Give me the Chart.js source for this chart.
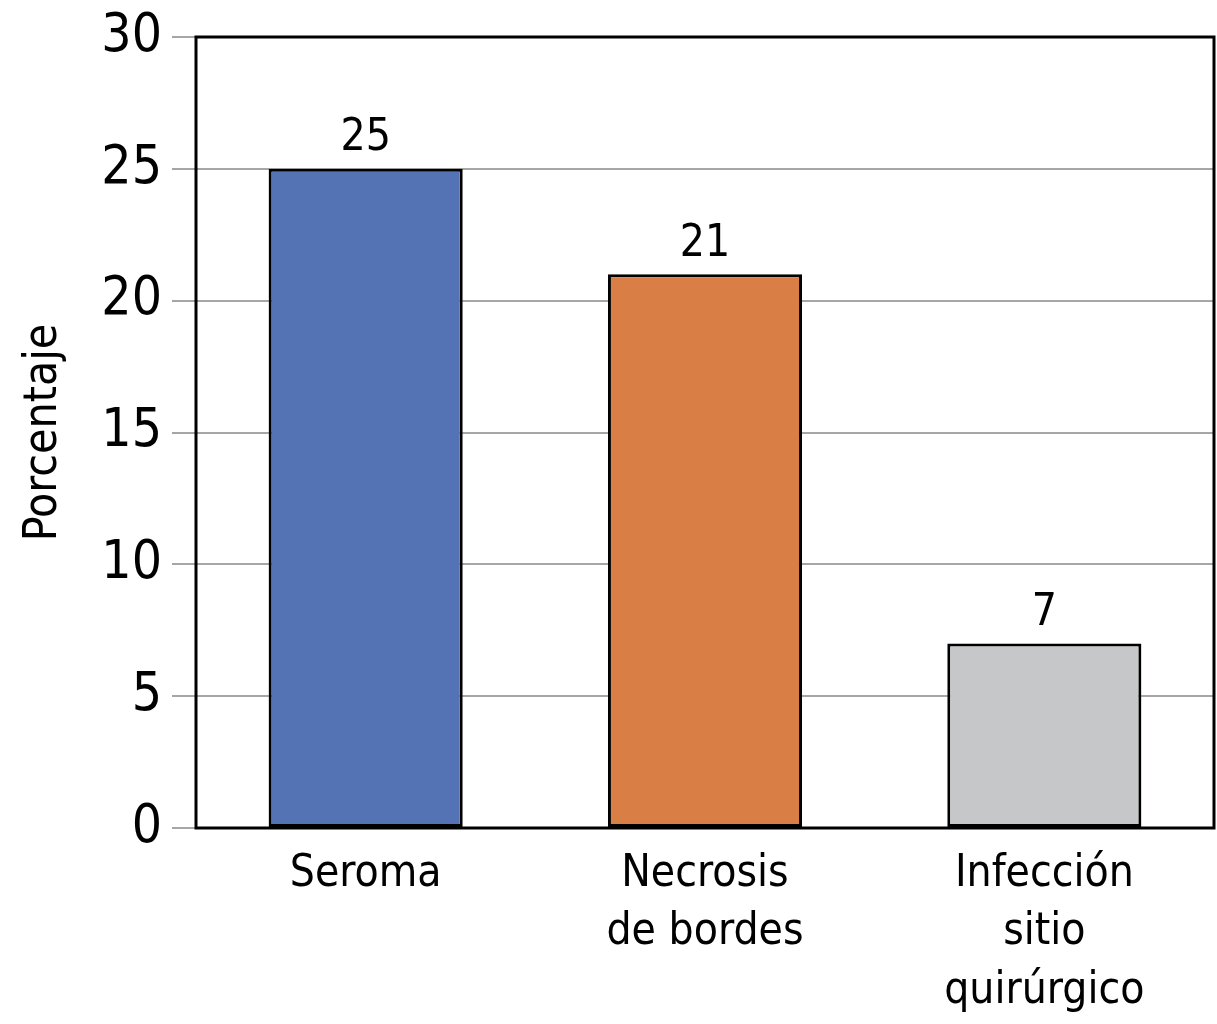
<!DOCTYPE html>
<html>
<head>
<meta charset="utf-8">
<script src="https://cdn.jsdelivr.net/npm/chart.js@4/dist/chart.umd.min.js"></script>
<style>
  html, body { margin: 0; padding: 0; background: #fff; }
  #wrap { width: 1217px; height: 1024px; }
</style>
</head>
<body>
<div id="wrap"><canvas id="canv" width="1217" height="1024"></canvas></div>
<script>
var categories = [["Seroma"], ["Necrosis", "de bordes"], ["Infección", "sitio", "quirúrgico"]];
var values = [25, 21, 7];
var barColors = ["#5473b5", "#d97f45", "#c6c7c9"];
var yTicks = [0, 5, 10, 15, 20, 25, 30];

var fontFam = "'Liberation Sans Narrow', 'DejaVu Sans Condensed', 'Liberation Sans', sans-serif";

// value labels above the bars and the black frame around the plot
var extras = {
  id: 'extras',
  afterDatasetsDraw: function(chart) {
    var ctx = chart.ctx;
    var meta = chart.getDatasetMeta(0);
    ctx.save();
    ctx.fillStyle = '#000';
    ctx.font = '44px ' + fontFam;
    ctx.textAlign = 'center';
    ctx.textBaseline = 'bottom';
    meta.data.forEach(function(bar, i) {
      ctx.fillText(values[i], bar.x, bar.y - 8);
    });
    var a = chart.chartArea;
    ctx.strokeStyle = '#000';
    ctx.lineWidth = 3;
    ctx.strokeRect(a.left, a.top, a.right - a.left, a.bottom - a.top);
    ctx.restore();
  }
};

var chart = new Chart(document.getElementById("canv"), {
  type: 'bar',
  data: {
    labels: categories,
    datasets: [{
      data: values,
      backgroundColor: barColors,
      borderColor: '#000',
      borderWidth: 3,
      borderSkipped: false,
      categoryPercentage: 1,
      barPercentage: 0.572
    }]
  },
  options: {
    responsive: false,
    animation: false,
    devicePixelRatio: 1,
    layout: { padding: { top: 37, right: 3, left: 0, bottom: 0 } },
    plugins: {
      legend: { display: false },
      tooltip: { enabled: false }
    },
    scales: {
      x: {
        grid: { display: false },
        border: { display: false },
        ticks: {
          color: '#000',
          padding: 9,
          font: { family: fontFam, size: 44, lineHeight: 1.33 }
        },
        afterFit: function(s) { s.height = 196; }
      },
      y: {
        min: 0,
        max: 30,
        afterBuildTicks: function(s) {
          s.ticks = yTicks.map(function(v) { return { value: v }; });
        },
        grid: {
          color: '#a6a6a6',
          lineWidth: 2,
          tickLength: 24,
          drawTicks: true
        },
        border: { display: false },
        ticks: {
          color: '#000',
          padding: 10,
          font: { family: fontFam, size: 53 }
        },
        title: {
          display: true,
          text: 'Porcentaje',
          color: '#000',
          font: { family: fontFam, size: 46 },
          padding: { top: 16, bottom: 0 }
        },
        afterFit: function(s) {
          s.width = 196;
          s.paddingTop = 0;
          s.paddingBottom = 0;
        }
      }
    }
  },
  plugins: [extras]
});
</script>
</body>
</html>
